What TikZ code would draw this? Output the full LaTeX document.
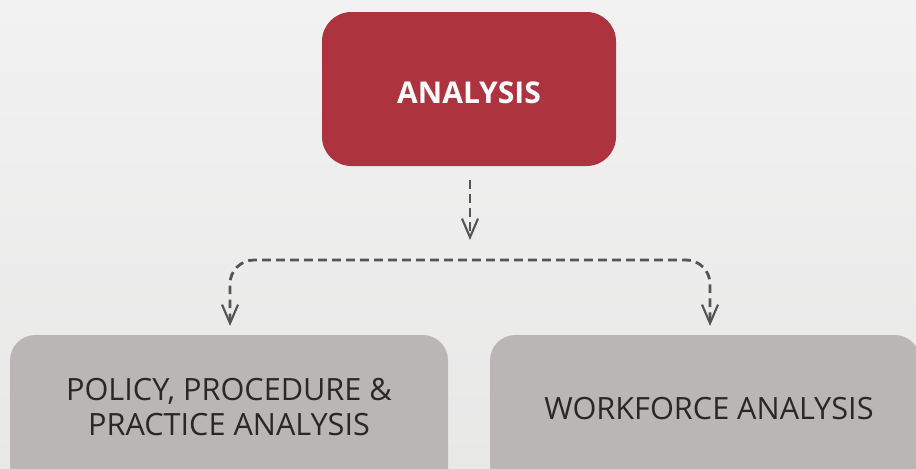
\documentclass[tikz,border=0pt]{standalone}
\usepackage{fontspec}
\setmainfont{Open Sans}
\usetikzlibrary{arrows.meta}
\definecolor{analysisred}{RGB}{173,52,62}
\definecolor{boxgray}{RGB}{186,182,181}
\definecolor{dashgray}{RGB}{85,85,85}
\definecolor{txtdark}{RGB}{40,40,40}
\tikzset{
  >={Straight Barb[length=14pt,width=12pt,line width=1.6pt]},
  redbox/.style={fill=analysisred, rounded corners=22pt},
  graybox/.style={fill=boxgray, rounded corners=19pt},
  boldlabel/.style={text=white, font=\fontsize{22.5}{26}\selectfont\bfseries},
  graylabel/.style={text=txtdark, align=center, font=\fontsize{23}{26.5}\selectfont},
  dashline/.style={draw=dashgray, line width=2.1pt, dash pattern=on 6.5pt off 4pt}
}
\begin{document}
\begin{tikzpicture}[x=0.75pt,y=0.75pt,yscale=-1,xscale=1]
\useasboundingbox (0,0) rectangle (916,468);
%background
\shade[top color={rgb,255:red,242;green,242;blue,242}, bottom color={rgb,255:red,232;green,232;blue,231}] (0,0) rectangle (916,468);
\clip (0,0) rectangle (916,468);

%top box
\path[redbox] (322,12) rectangle (616,166);
\node[boldlabel] (analysis) at (469,93) {ANALYSIS};
\coordinate (anbottom) at (470,180);

%bottom boxes
\path[graybox] (10,335) rectangle (448,500);
\node[graylabel] (policy) at (229,407) {POLICY, PROCEDURE \&\\PRACTICE ANALYSIS};
\path[graybox] (490,335) rectangle (920,500);
\node[graylabel] (workforce) at (709,409) {WORKFORCE ANALYSIS};

%connectors
\coordinate (hubtip) at (470,240);
\coordinate (hub) at (470,260);
\coordinate (lefttip) at (230,326);
\coordinate (righttip) at (710,326);
\draw[dashline, ->] (anbottom) -- (hubtip);
\draw[dashline, <->, rounded corners=18pt] (lefttip) |- (hub) -| (righttip);
\end{tikzpicture}
\end{document}
